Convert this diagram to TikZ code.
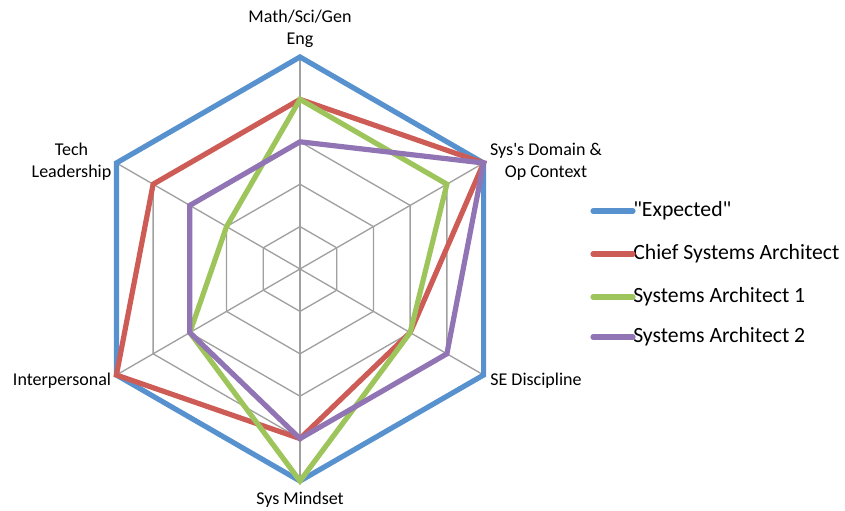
\documentclass[tikz,border=0pt]{standalone}
\usepackage{fontspec}
\setmainfont{Carlito}[Ligatures={TeXOff,CommonOff}]
\usetikzlibrary{positioning,calc}
\definecolor{expblue}{RGB}{88,146,206}
\definecolor{chiefred}{RGB}{206,92,86}
\definecolor{saonegreen}{RGB}{158,196,92}
\definecolor{satwopurple}{RGB}{145,116,180}
\definecolor{gridgray}{RGB}{160,160,160}
\tikzset{
  gridline/.style={draw=gridgray,line width=1pt},
  series/.style={line width=3.9pt,line join=miter},
  axislabel/.style={font=\fontsize{13.5}{16.5}\selectfont,align=center,inner sep=0pt},
  legendline/.style={line width=3.9pt,line cap=round},
  legendtext/.style={font=\fontsize{16.3}{19}\selectfont,anchor=west,inner sep=0pt}
}
\def\lvl{42.4}
% one polygon of the radar chart, values from the top clockwise
\newcommand\radarseries[7]{%
\draw[series,draw=#1,shift={(c)}] (90:#2*\lvl) -- (30:#3*\lvl) -- (-30:#4*\lvl) -- (-90:#5*\lvl) -- (-150:#6*\lvl) -- (150:#7*\lvl) -- cycle;}

\begin{document}
\begin{tikzpicture}[x=0.75pt,y=0.75pt]
\useasboundingbox (0,0) rectangle (845,510);
\coordinate (c) at (300,241);
%grid rings
\foreach \r in {1,...,5}
  \draw[gridline,shift={(c)}] (90:\r*\lvl) -- (30:\r*\lvl) -- (-30:\r*\lvl) -- (-90:\r*\lvl) -- (-150:\r*\lvl) -- (150:\r*\lvl) -- cycle;
%spokes
\foreach \a [count=\i] in {90,30,-30,-90,-150,150} {
  \coordinate (t\i) at ($(c)+(\a:5*\lvl)$);
  \draw[gridline] (c) -- (t\i);
}
%series
\radarseries{expblue}{5}{5}{5}{5}{5}{5}
\radarseries{chiefred}{4}{5}{3}{4}{5}{4}
\radarseries{saonegreen}{4}{4}{3}{5}{3}{2}
\radarseries{satwopurple}{3}{5}{4}{4}{3}{3}
%axis labels
\node[axislabel] (lmath) at (300,481) {Math/Sci/Gen\\Eng};
\node[axislabel] (ldomain) at (546,348) {Sys's Domain \&\\Op Context};
\node[axislabel] (lse) at (536,129) {SE Discipline};
\node[axislabel] (lmind) at (300,10) {Sys Mindset};
\node[axislabel] (linter) at (62,129) {Interpersonal};
\node[axislabel] (ltech) at (71.5,348) {Tech\\Leadership};
%legend
\foreach \col/\txt/\yy [count=\j] in {expblue/{"Expected"}/299,chiefred/{Chief Systems Architect}/256,saonegreen/{Systems Architect 1}/213,satwopurple/{Systems Architect 2}/173} {
  \coordinate (k\j) at (593,\yy);
  \node[legendtext] (e\j) at (633,\yy) {\txt};
  \draw[legendline,draw=\col] (k\j) -- (e\j.west);
}
\end{tikzpicture}
\end{document}
